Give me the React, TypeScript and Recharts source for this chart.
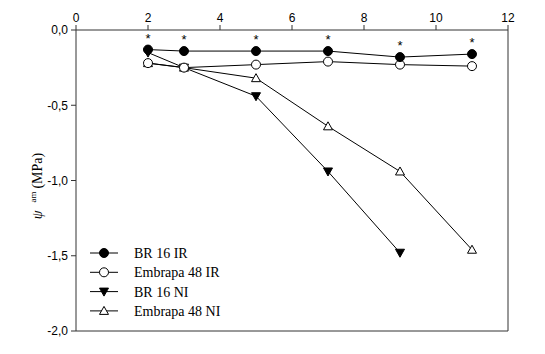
import React from 'react';
import {
    LineChart,
    Line,
    XAxis,
    YAxis,
    ReferenceLine
} from 'recharts';

const days = [2, 3, 5, 7, 9, 11];
const br16Ir = [-0.13, -0.14, -0.14, -0.14, -0.18, -0.16];
const embrapa48Ir = [-0.22, -0.25, -0.23, -0.21, -0.23, -0.24];
const br16Ni = [-0.15, -0.25, -0.44, -0.94, -1.48, null];
const embrapa48Ni = [-0.22, -0.25, -0.32, -0.64, -0.94, -1.46];

const xTicks = [0, 2, 4, 6, 8, 10, 12];
const yTicks = [0, -0.5, -1.0, -1.5, -2.0];

const data = days.map((d, i) => ({
    day: d,
    br16Ir: br16Ir[i],
    embrapa48Ir: embrapa48Ir[i],
    br16Ni: br16Ni[i],
    embrapa48Ni: embrapa48Ni[i]
}));

const fmtY = (v: number) => v.toFixed(1).replace('.', ',');

// marker shapes
const drawMarker = (kind: string, cx: number, cy: number, key?: any) => {
    if (kind === 'filledCircle') {
        return <circle key={key} cx={cx} cy={cy} r={4.5} fill="#000" stroke="#000" />;
    }
    if (kind === 'openCircle') {
        return <circle key={key} cx={cx} cy={cy} r={4.5} fill="#fff" stroke="#000" strokeWidth={1} />;
    }
    if (kind === 'downTriangle') {
        return (
            <polygon
                key={key}
                points={`${cx - 4.5},${cy - 3.5} ${cx + 4.5},${cy - 3.5} ${cx},${cy + 4.5}`}
                fill="#000"
                stroke="#000"
            />
        );
    }
    return (
        <polygon
            key={key}
            points={`${cx - 4.5},${cy + 3.5} ${cx + 4.5},${cy + 3.5} ${cx},${cy - 4.5}`}
            fill="#fff"
            stroke="#000"
            strokeWidth={1}
        />
    );
};

const dotOf = (kind: string) => (props: any) => {
    const { cx, cy, index, value } = props;
    if (value == null || cx == null || cy == null) return <g key={`e-${kind}-${index}`} />;
    return drawMarker(kind, cx, cy, `${kind}-${index}`);
};

const starLabel = (props: any) => {
    const { x, y, index } = props;
    return (
        <text
            key={`star-${index}`}
            x={x}
            y={y - 7}
            textAnchor="middle"
            fontFamily="Liberation Sans, Arial, sans-serif"
            fontSize={13}
            fill="#000"
        >
            *
        </text>
    );
};

const legendItems = [
    { name: 'BR 16 IR', kind: 'filledCircle' },
    { name: 'Embrapa 48 IR', kind: 'openCircle' },
    { name: 'BR 16 NI', kind: 'downTriangle' },
    { name: 'Embrapa 48 NI', kind: 'upTriangle' }
];

const LegendBox = () => (
    <svg width={230} height={80}>
        {legendItems.map((it, i) => {
            const y = 10 + i * 19.3;
            return (
                <g key={it.name}>
                    <line x1={2} x2={30} y1={y} y2={y} stroke="#000" strokeWidth={1} />
                    {drawMarker(it.kind, 16, y)}
                    <text
                        x={46}
                        y={y + 5}
                        fontFamily="Liberation Serif, Times New Roman, serif"
                        fontSize={14}
                        fill="#000"
                    >
                        {it.name}
                    </text>
                </g>
            );
        })}
    </svg>
);

const tickFont = { fontFamily: 'Liberation Sans, Arial, sans-serif', fontSize: 12, fill: '#000' };

export default function App() {
    return (
        <div style={{ position: 'absolute', left: 0, top: 0, width: 545, height: 354, background: '#fff' }}>
            <LineChart
                width={545}
                height={354}
                data={data}
                margin={{ top: 0, right: 37, bottom: 23, left: 0 }}
            >
                <XAxis
                    dataKey="day"
                    type="number"
                    orientation="top"
                    domain={[0, 12]}
                    ticks={xTicks}
                    height={30}
                    tickSize={5}
                    tickMargin={3}
                    stroke="#333"
                    tick={tickFont}
                    allowDataOverflow
                />
                <YAxis
                    type="number"
                    domain={[-2, 0]}
                    ticks={yTicks}
                    width={76}
                    tickSize={5}
                    tickMargin={3}
                    stroke="#333"
                    tick={tickFont}
                    tickFormatter={fmtY}
                />
                <ReferenceLine x={12} stroke="#333" ifOverflow="visible" />
                <ReferenceLine y={-2} stroke="#333" ifOverflow="visible" />
                <Line
                    dataKey="embrapa48Ni"
                    name="Embrapa 48 NI"
                    stroke="#000"
                    strokeWidth={1}
                    dot={dotOf('upTriangle')}
                    isAnimationActive={false}
                />
                <Line
                    dataKey="br16Ni"
                    name="BR 16 NI"
                    stroke="#000"
                    strokeWidth={1}
                    dot={dotOf('downTriangle')}
                    isAnimationActive={false}
                />
                <Line
                    dataKey="embrapa48Ir"
                    name="Embrapa 48 IR"
                    stroke="#000"
                    strokeWidth={1}
                    dot={dotOf('openCircle')}
                    isAnimationActive={false}
                />
                <Line
                    dataKey="br16Ir"
                    name="BR 16 IR"
                    stroke="#000"
                    strokeWidth={1}
                    dot={dotOf('filledCircle')}
                    label={starLabel}
                    isAnimationActive={false}
                />
            </LineChart>
            {/* legend inside the plot, lower left */}
            <div style={{ position: 'absolute', left: 88, top: 243 }}>
                <LegendBox />
            </div>
            {/* y axis title */}
            <svg style={{ position: 'absolute', left: 0, top: 0 }} width={70} height={354}>
                <text
                    x={42}
                    y={186}
                    transform="rotate(-90 42 186)"
                    textAnchor="middle"
                    fontFamily="Liberation Serif, Times New Roman, serif"
                    fontSize={14}
                    fill="#000"
                >
                    <tspan fontStyle="italic">ψ</tspan>
                    <tspan fontSize={9} dx={8} dy={-6}>am</tspan>
                    <tspan dx={3} dy={6}>(MPa)</tspan>
                </text>
            </svg>
        </div>
    );
}
